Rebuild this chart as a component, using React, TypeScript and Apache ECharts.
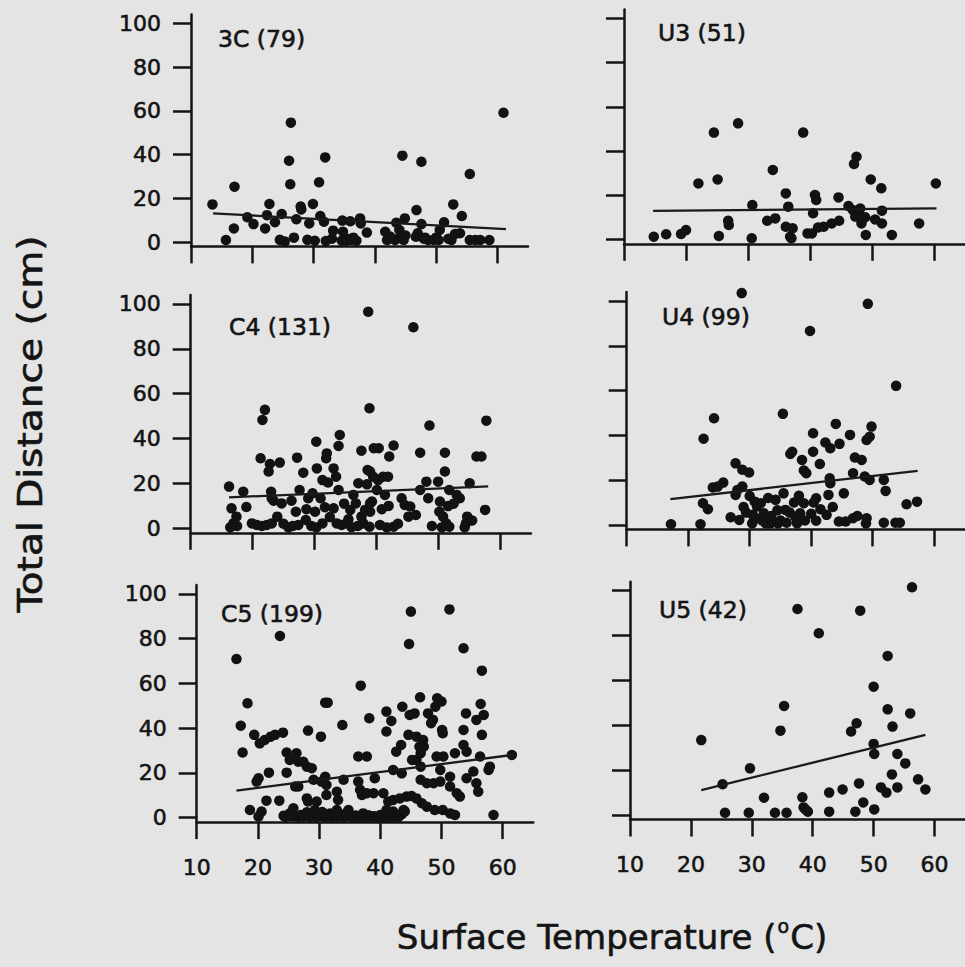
import React, { useEffect, useRef } from 'react';
import * as echarts from 'echarts';

const X_TICKS = [10, 20, 30, 40, 50, 60];
const Y_TICKS = [0, 20, 40, 60, 80, 100];
const PANEL_LABELS = ['3C (79)', 'U3 (51)', 'C4 (131)', 'U4 (99)', 'C5 (199)', 'U5 (42)'];
const X_TITLE_PARTS = ['Surface Temperature (', 'o', 'C)'];
const Y_TITLE = 'Total Distance (cm)';

const pts3C = [
  [13.5, 17.2], [15.7, 0.9], [17.1, 25.3], [17.0, 6.2], [19.2, 11.3], [20.2, 8.2], [22.1, 6.2], [22.8, 17.4],
  [22.4, 12.3], [23.7, 9.1], [24.8, 12.8], [26.3, 54.6], [26.0, 37.2], [26.2, 26.4], [25.3, 0.2], [26.8, 2.0],
  [27.2, 10.4], [27.9, 16.2], [28.0, 14.9], [29.3, 8.5], [29.9, 17.4], [30.2, 0.6], [30.9, 27.3], [31.1, 11.9],
  [31.9, 38.7], [31.7, 9.3], [32.0, 0.5], [33.2, 5.2], [34.7, 9.8], [34.8, 4.7], [34.6, 0.6], [35.4, 0.6],
  [36.2, 0.9], [37.0, 0.6], [37.6, 10.8], [37.7, 8.5], [38.7, 4.3], [41.7, 4.7], [42.0, 0.9], [43.3, 0.9],
  [43.5, 8.8], [44.1, 2.4], [44.7, 0.9], [44.5, 39.5], [44.9, 10.8], [46.8, 14.6], [47.6, 36.7], [47.6, 8.2],
  [46.7, 2.4], [48.2, 2.0], [48.7, 0.9], [49.6, 0.9], [50.4, 0.9], [50.6, 5.5], [51.3, 9.0], [52.5, 0.9],
  [52.8, 17.2], [53.1, 3.7], [53.9, 4.0], [54.2, 11.9], [55.5, 31.1], [55.5, 0.9], [56.4, 0.9], [57.2, 0.9],
  [58.7, 0.9], [61.0, 59.1], [35.5, 1.5], [36.5, 2.0], [45.0, 3.0], [48.0, 1.5], [44.0, 5.5], [42.5, 2.5],
  [33.0, 1.5], [29.0, 1.0], [47.0, 4.0], [52.0, 1.5], [24.5, 1.0], [36.0, 9.5], [50.0, 2.0],
];

const ptsU3 = [
  [14.8, 1.2], [16.8, 2.3], [19.2, 2.4], [20.0, 4.2], [22.0, 25.3], [24.5, 48.3], [25.1, 27.1], [25.3, 1.5],
  [26.8, 8.4], [26.9, 6.5], [28.4, 52.5], [30.6, 0.5], [30.7, 15.5], [33.1, 8.4], [34.0, 31.4], [34.4, 9.5],
  [36.1, 20.8], [36.1, 5.7], [36.5, 14.8], [36.8, 1.2], [37.2, 5.0], [37.0, 0.5], [38.9, 48.3], [39.6, 2.7],
  [40.3, 2.7], [40.5, 11.8], [40.8, 20.1], [41.0, 17.8], [41.3, 5.4], [42.2, 5.7], [43.5, 7.2], [44.6, 19.0],
  [44.7, 8.4], [46.2, 15.1], [46.9, 13.3], [47.1, 34.1], [47.5, 37.4], [47.3, 10.3], [47.8, 11.8], [48.3, 7.2],
  [48.9, 10.0], [49.0, 2.0], [49.8, 27.1], [50.5, 9.0], [51.5, 23.1], [51.6, 13.0], [51.6, 7.2], [53.2, 2.0],
  [57.6, 7.2], [60.3, 25.3], [48.1, 14.0],
];

const ptsC4 = [
  [38.7, 96.5], [22.0, 52.8], [21.6, 48.3], [16.2, 18.6], [18.5, 16.3], [16.6, 8.9], [17.4, 5.2], [16.4, 0.4],
  [16.9, 2.2], [19.9, 2.2], [20.7, 1.5], [21.5, 1.0], [22.3, 1.5], [23.1, 2.2], [24.0, 5.2], [21.3, 31.2],
  [22.8, 28.7], [22.6, 25.3], [24.4, 29.3], [23.0, 16.3], [23.1, 13.4], [23.4, 12.3], [24.7, 11.1], [25.8, 0.4],
  [26.3, 12.3], [27.2, 31.5], [27.6, 17.1], [28.2, 24.8], [27.0, 7.4], [27.4, 1.5], [28.6, 3.7], [28.7, 8.5],
  [29.0, 13.4], [29.7, 15.6], [30.1, 7.4], [30.4, 26.7], [30.3, 38.6], [30.3, 0.4], [31.0, 13.4], [31.3, 2.2],
  [31.7, 9.4], [32.0, 33.4], [31.9, 31.2], [31.3, 21.5], [32.2, 20.4], [33.1, 26.7], [33.5, 23.0], [33.9, 17.1],
  [34.1, 41.6], [33.9, 36.7], [33.1, 8.9], [33.6, 2.2], [34.4, 1.5], [35.2, 2.2], [35.8, 8.2], [36.3, 14.9],
  [36.7, 11.1], [37.1, 20.1], [37.6, 34.6], [37.9, 2.2], [38.6, 26.0], [38.9, 53.5],
  [46.0, 89.6], [39.6, 35.7], [40.4, 35.7], [42.8, 36.9], [42.1, 32.0], [47.1, 33.7], [48.6, 45.8], [51.1, 33.7],
  [56.2, 32.0], [57.0, 32.0], [57.8, 48.0], [39.0, 25.3], [39.5, 23.0], [40.3, 21.5], [41.1, 23.0], [41.9, 23.0],
  [40.1, 17.1], [41.4, 14.9], [39.3, 11.9], [40.9, 8.5], [39.0, 7.4], [38.2, 8.2], [38.9, 0.7], [40.6, 1.5],
  [41.7, 0.4], [42.8, 0.7], [44.1, 13.4], [44.6, 10.4], [45.5, 9.7], [45.2, 5.2], [46.4, 5.9], [48.1, 20.8],
  [47.1, 17.1], [48.4, 13.4], [50.0, 20.8], [51.1, 25.3], [51.8, 17.1], [50.3, 11.9], [51.6, 9.9], [53.5, 13.4],
  [53.0, 14.9], [50.2, 7.4], [50.8, 5.2], [51.3, 2.2], [51.8, 0.7], [50.6, 0.4], [55.1, 20.1], [54.7, 5.2],
  [54.5, 2.2], [54.3, 0.4], [57.6, 8.2], [38.5, 19.6], [39.0, 11.1], [37.6, 5.2],
  [17.5, 1.0], [19.0, 9.5], [25.0, 2.0], [26.5, 1.0], [29.5, 1.0], [32.5, 5.0], [34.8, 11.0], [35.5, 4.0],
  [36.0, 0.5], [37.0, 1.0], [42.0, 10.0], [43.5, 2.0], [49.0, 1.0], [52.5, 11.0], [55.5, 3.5],
];

const ptsU4 = [
  [28.7, 103.5], [49.2, 98.7], [39.8, 86.6], [53.8, 62.1], [24.2, 47.6], [35.4, 49.6], [22.5, 38.5], [17.2, 0.3],
  [22.0, 0.3], [22.4, 9.7], [23.2, 7.0], [24.0, 16.7], [24.8, 17.1], [25.7, 18.9], [26.9, 3.4], [27.7, 27.5],
  [28.8, 24.6], [29.9, 23.4], [27.7, 13.4], [28.0, 15.6], [28.8, 17.1], [28.3, 2.2], [29.4, 5.5], [30.0, 12.9],
  [30.4, 0.7], [30.8, 10.4], [31.2, 8.2], [31.8, 9.7], [32.3, 5.2], [32.6, 0.7], [33.4, 0.7], [34.2, 11.2],
  [34.6, 0.7], [35.5, 14.1], [35.8, 6.7], [36.6, 31.7], [36.9, 32.7], [37.2, 10.0], [37.4, 3.7], [37.7, 0.7],
  [38.2, 5.2], [38.5, 29.0], [38.8, 24.3], [39.2, 23.1], [38.8, 9.7], [40.3, 40.9], [40.3, 32.7], [40.8, 11.9],
  [40.4, 10.0], [40.8, 1.9], [41.4, 27.2], [42.3, 36.8], [43.1, 34.2], [42.5, 4.5], [43.0, 20.8], [43.1, 18.6],
  [42.8, 13.4], [44.0, 45.1], [44.6, 36.2], [45.3, 14.1], [46.3, 40.2], [45.6, 1.5], [46.8, 3.0], [47.1, 30.1],
  [48.2, 29.0], [46.8, 23.1], [48.7, 21.6], [49.5, 20.1], [49.0, 3.0], [48.9, 0.7], [49.0, 37.9], [49.5, 39.4],
  [49.8, 43.9], [51.8, 20.1], [52.1, 15.2], [51.8, 1.0], [53.7, 1.0], [54.4, 1.0], [55.5, 9.2], [57.2, 10.4],
  [31.0, 3.0], [32.0, 2.0], [33.5, 4.0], [35.0, 2.0], [36.0, 1.0], [36.5, 5.5], [39.0, 2.0], [40.0, 5.0],
  [41.5, 7.0], [44.5, 1.5], [30.5, 4.5], [29.0, 8.0], [33.0, 12.0], [38.0, 13.0], [34.5, 6.5], [47.5, 4.0],
  [43.5, 8.0], [37.8, 1.5],
];

const ptsC5 = [
  [23.6, 81.2], [16.5, 70.9], [18.3, 51.1], [17.2, 41.1], [17.5, 29.1], [19.4, 37.0], [20.3, 33.2], [21.1, 34.7],
  [22.1, 36.2], [22.8, 37.0], [24.1, 38.0], [20.1, 17.6], [19.8, 16.1], [21.8, 20.1], [24.7, 20.1], [24.7, 29.1],
  [25.2, 25.8], [26.3, 28.8], [26.6, 25.0], [27.4, 25.0], [28.0, 22.8], [28.8, 22.1], [28.2, 38.9], [30.3, 36.2],
  [31.0, 51.4], [31.4, 51.4], [33.8, 41.4], [36.8, 59.0], [38.2, 44.4], [18.7, 3.4], [20.1, 0.5], [20.6, 2.7],
  [21.4, 7.6], [23.5, 7.6], [24.2, 0.8], [25.2, 1.9], [25.8, 4.2], [26.1, 13.9], [26.6, 13.9], [28.0, 8.6],
  [28.0, 0.8], [28.2, 7.2], [29.1, 16.9], [29.3, 3.4], [29.6, 7.2], [30.4, 16.1], [30.7, 0.5], [31.0, 18.3],
  [31.2, 14.6], [31.2, 10.1], [31.8, 1.9], [32.3, 0.5], [32.9, 3.4], [32.9, 11.6], [33.1, 7.9], [34.0, 16.9],
  [33.7, 0.5], [34.8, 3.4], [34.5, 0.5], [35.9, 0.5], [36.4, 27.3], [36.4, 16.1], [36.7, 12.4], [37.0, 10.1],
  [37.2, 1.9], [37.8, 27.3],
  [45.0, 92.1], [51.3, 93.1], [44.7, 77.6], [53.6, 75.7], [56.6, 65.7], [46.5, 53.8], [49.3, 53.4], [50.0, 51.9],
  [41.0, 47.4], [41.8, 43.2], [41.0, 38.5], [43.6, 49.6], [44.8, 45.9], [45.6, 46.6], [47.8, 46.6], [48.6, 43.7],
  [49.0, 49.6], [48.3, 42.2], [50.1, 39.2], [50.2, 37.7], [54.0, 46.6], [55.7, 43.7], [56.4, 50.8], [56.9, 45.9],
  [53.6, 39.2], [56.6, 37.0], [44.6, 37.0], [45.9, 36.2], [47.0, 34.7], [46.4, 31.7], [47.1, 31.7], [43.4, 32.5],
  [42.6, 29.5], [46.6, 28.8], [45.9, 25.8], [49.2, 27.3], [50.3, 27.3], [52.2, 28.8], [53.6, 32.5], [54.1, 29.5],
  [56.3, 27.3], [57.9, 22.8], [57.7, 21.3], [61.5, 28.0], [39.1, 17.6], [42.1, 21.3], [43.5, 19.8], [45.2, 25.8],
  [46.6, 22.8], [46.6, 16.9], [47.6, 15.4], [48.7, 15.4], [49.8, 16.1], [49.8, 21.3], [51.4, 18.3], [51.4, 13.9],
  [52.5, 10.9], [53.0, 9.4], [54.1, 17.6], [55.2, 20.6], [55.7, 15.4], [56.0, 11.6], [58.5, 1.2], [37.8, 10.9],
  [38.9, 10.9], [40.5, 10.9], [41.3, 7.2], [42.1, 7.9], [43.2, 8.6], [44.3, 9.4], [45.1, 9.7], [45.9, 8.6],
  [46.8, 6.4], [47.6, 4.9], [48.9, 3.4], [50.2, 3.4], [51.4, 1.9], [52.2, 1.2], [41.0, 3.4], [40.8, 0.5],
  [42.1, 2.7], [43.8, 3.4], [40.0, 0.5], [38.9, 0.5], [37.8, 0.5], [42.1, 0.5],
  [24.5, 0.3], [25.5, 0.5], [26.5, 0.2], [27.0, 1.2], [27.5, 0.4], [28.5, 0.3], [29.0, 1.0], [29.5, 0.2],
  [30.0, 0.6], [31.0, 0.3], [31.5, 1.1], [32.0, 0.2], [33.0, 0.4], [33.5, 1.3], [34.0, 0.3], [35.0, 0.7],
  [35.5, 0.2], [36.0, 1.0], [36.5, 0.3], [37.0, 0.5], [37.5, 0.2], [38.0, 1.1], [38.5, 0.3], [39.0, 0.6],
  [39.5, 0.2], [40.0, 1.2], [40.5, 0.3], [41.0, 0.6], [41.5, 0.2], [42.0, 1.0], [42.5, 0.4], [43.0, 0.3],
  [43.5, 1.5], [30.5, 2.5], [34.5, 2.2], [28.0, 2.4], [44.0, 2.8],
];

const ptsU5 = [
  [21.7, 33.4], [25.2, 13.7], [25.6, 1.0], [29.5, 1.0], [29.7, 20.8], [32.0, 7.7], [33.8, 1.0], [35.7, 1.0],
  [34.7, 37.6], [35.3, 48.6], [37.5, 91.8], [41.0, 81.0], [38.3, 7.9], [38.5, 3.4], [39.2, 1.5], [42.7, 10.0],
  [42.7, 1.5], [44.9, 11.4], [46.3, 37.2], [47.2, 40.9], [47.6, 14.1], [47.0, 1.5], [47.8, 91.1], [48.3, 5.6],
  [50.1, 2.5], [50.0, 57.2], [50.0, 31.7], [50.1, 27.2], [51.2, 12.3], [52.1, 10.0], [52.3, 47.1], [52.3, 70.9],
  [53.1, 39.4], [53.0, 18.1], [53.9, 27.2], [53.9, 12.3], [55.2, 23.0], [56.0, 45.3], [56.3, 101.5], [57.3, 15.9],
  [58.5, 11.4], [38.8, 2.5],
];

const trend3C = [[13.6, 13.1], [61.4, 5.9]];
const trendU3 = [[14.7, 12.9], [60.4, 14.0]];
const trendC4 = [[16.2, 13.8], [58.1, 18.7]];
const trendU4 = [[17.1, 11.5], [57.3, 24.1]];
const trendC5 = [[16.5, 12.1], [61.5, 28.0]];
const trendU5 = [[21.7, 11.1], [58.5, 35.7]];

const POINTS = [pts3C, ptsU3, ptsC4, ptsU4, ptsC5, ptsU5];
const TRENDS = [trend3C, trendU3, trendC4, trendU4, trendC5, trendU5];

const GRIDS = [
  { left: 191, top: 14.6, width: 337, height: 231.8 },
  { left: 624, top: 9.5, width: 341, height: 234.3 },
  { left: 190.7, top: 295, width: 340.2, height: 237.8 },
  { left: 626.7, top: 292, width: 341, height: 237.4 },
  { left: 196.7, top: 585, width: 336.6, height: 237.1 },
  { left: 630, top: 581.7, width: 340.5, height: 237.8 },
];
const LABEL_POS = [
  [218, 39], [658, 33], [229, 327], [662, 317], [221, 614], [659, 610],
];

const INK = '#141414';
const FONT = 'DejaVu Sans';
const HEAVY = { textBorderColor: INK, textBorderWidth: 0.6 };

export default function App() {
  const ref = useRef<HTMLDivElement>(null);
  useEffect(() => {
    if (!ref.current) return;
    const chart = echarts.init(ref.current, null, { renderer: 'svg' });
    const grid = GRIDS.map((g) => ({ ...g, containLabel: false }));
    const xAxis = GRIDS.map((_, i) => ({
      type: 'value',
      gridIndex: i,
      min: 10,
      max: 65,
      interval: 10,
      axisLine: { show: true, onZero: false, lineStyle: { color: INK, width: 2.5 } },
      axisTick: { show: true, length: 17, inside: false, customValues: X_TICKS, lineStyle: { color: INK, width: 2.5 } },
      axisLabel: {
        show: i >= 4,
        customValues: X_TICKS,
        margin: 34,
        fontSize: 22,
        fontFamily: FONT,
        color: INK,
        ...HEAVY,
      },
      splitLine: { show: false },
    }));
    const yAxis = GRIDS.map((_, i) => ({
      type: 'value',
      gridIndex: i,
      min: -2,
      max: 104,
      axisLine: { show: true, onZero: false, lineStyle: { color: INK, width: 2.5 } },
      axisTick: { show: true, length: 18, inside: false, customValues: Y_TICKS, lineStyle: { color: INK, width: 2.5 } },
      axisLabel: {
        show: i % 2 === 0,
        customValues: Y_TICKS,
        margin: 30,
        fontSize: 22,
        fontFamily: FONT,
        color: INK,
        ...HEAVY,
      },
      splitLine: { show: false },
    }));
    const series: any[] = [];
    POINTS.forEach((pts, i) => {
      series.push({
        type: 'scatter',
        xAxisIndex: i,
        yAxisIndex: i,
        data: pts,
        symbol: 'circle',
        symbolSize: 10.5,
        itemStyle: { color: '#121212', opacity: 1 },
        clip: false,
        silent: true,
      });
      series.push({
        type: 'line',
        xAxisIndex: i,
        yAxisIndex: i,
        data: TRENDS[i],
        symbol: 'none',
        lineStyle: { color: '#1a1a1a', width: 2.3 },
        silent: true,
      });
    });
    const strokeStyle = { stroke: INK, lineWidth: 0.6 };
    const graphic: any[] = PANEL_LABELS.map((t, i) => ({
      type: 'text',
      x: LABEL_POS[i][0],
      y: LABEL_POS[i][1],
      style: { text: t, fontSize: 23.5, fontFamily: FONT, fill: INK, align: 'left', verticalAlign: 'middle', ...strokeStyle },
    }));
    graphic.push({
      type: 'text',
      x: 30,
      y: 424,
      rotation: Math.PI / 2,
      scaleX: 1.15,
      style: { text: Y_TITLE, fontSize: 34, fontFamily: FONT, fill: INK, align: 'center', verticalAlign: 'middle', ...strokeStyle },
    });
    graphic.push({
      type: 'text',
      x: 612,
      y: 937,
      style: {
        text: `{a|${X_TITLE_PARTS[0]}}{s|${X_TITLE_PARTS[1]}}{a|${X_TITLE_PARTS[2]}}`,
        fontFamily: FONT,
        fill: INK,
        align: 'center',
        verticalAlign: 'middle',
        ...strokeStyle,
        rich: {
          a: { fontSize: 34, fontFamily: FONT, fill: INK, lineHeight: 42, ...strokeStyle },
          s: { fontSize: 19, fontFamily: FONT, fill: INK, verticalAlign: 'top', lineHeight: 42, padding: [0, 1, 15, 1], ...strokeStyle },
        },
      },
    });
    chart.setOption({
      animation: false,
      backgroundColor: '#e4e4e4',
      grid,
      xAxis,
      yAxis,
      series,
      graphic,
    });
    return () => chart.dispose();
  }, []);
  return <div ref={ref} style={{ position: 'fixed', left: 0, top: 0, width: 965, height: 967 }} />;
}
